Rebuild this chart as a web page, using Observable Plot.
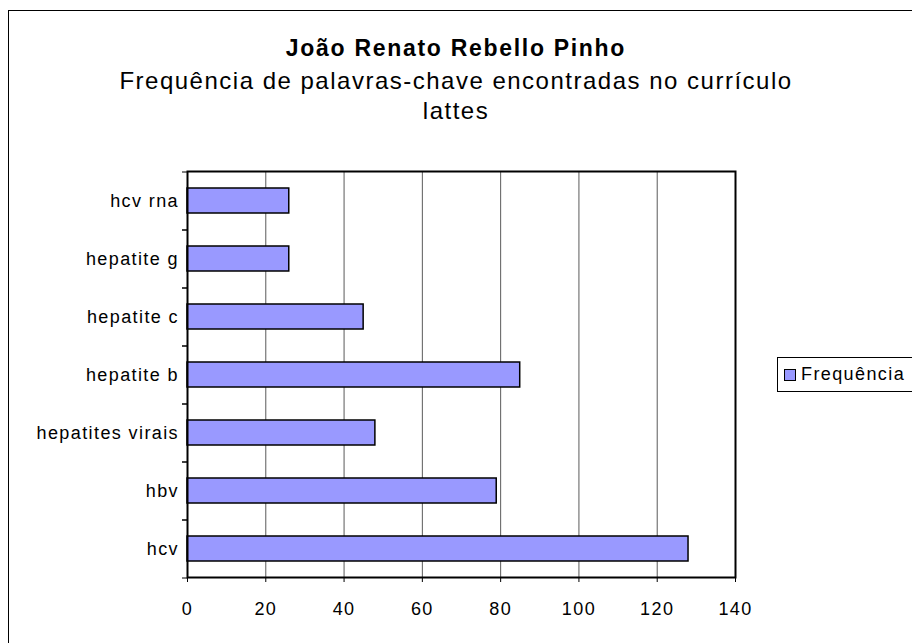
<!DOCTYPE html>
<html>
<head>
<meta charset="utf-8">
<script src="https://cdn.jsdelivr.net/npm/d3@7"></script>
<script src="https://cdn.jsdelivr.net/npm/@observablehq/plot@0.6"></script>
<style>
  html, body { margin: 0; padding: 0; background: #fff; overflow: hidden; }
  #wrap { position: relative; width: 912px; height: 643px; font-family: "Liberation Sans", Arial, sans-serif; color: #000; }
  #border { position: absolute; left: 8px; top: 10px; width: 1000px; height: 1000px; border: 1px solid #000; box-sizing: border-box; }
  #chart { position: absolute; left: 0; top: 0; }
  #chart svg text { letter-spacing: 1.4px; }
  #titles { position: absolute; left: 8px; width: 896px; top: 33px; text-align: center; }
  #t1 { font-weight: bold; font-size: 23px; line-height: 30px; letter-spacing: 1.7px; }
  #t2 { font-size: 24px; line-height: 30px; letter-spacing: 1.5px; margin-top: 3px; }
  #legend { position: absolute; left: 777px; top: 357px; height: 35px; width: 200px; border: 1px solid #000; box-sizing: border-box; font-size: 18px; letter-spacing: 1.4px; display: flex; align-items: center; }
  #legend .sw { width: 10px; height: 10px; background: #9999FF; border: 1px solid #000; margin-left: 6px; margin-right: 5px; }
</style>
</head>
<body>
<div id="wrap">
  <div id="border"></div>
  <div id="chart"></div>
  <div id="titles">
    <div id="t1"></div>
    <div id="t2"></div>
  </div>
  <div id="legend"><span class="sw"></span><span id="legtext"></span></div>
</div>
<script>
const title = "João Renato Rebello Pinho";
const subtitleLines = ["Frequência de palavras-chave encontradas no currículo", "lattes"];
const seriesName = "Frequência";
const categories = ["hcv rna", "hepatite g", "hepatite c", "hepatite b", "hepatites virais", "hbv", "hcv"];
const values = [26, 26, 45, 85, 48, 79, 128];
const xTicks = [0, 20, 40, 60, 80, 100, 120, 140];

document.getElementById("t1").textContent = title;
document.getElementById("t2").innerHTML = subtitleLines.map(s => s.replace(/&/g, "&amp;").replace(/</g, "&lt;")).join("<br>");
document.getElementById("legtext").textContent = seriesName;

const data = categories.map((c, i) => ({category: c, value: values[i]}));

const W = 912, H = 643;
const mL = 187, mR = 177, mT = 171, mB = 66;
const halfStep = (H - mT - mB) / categories.length / 2;

const chart = Plot.plot({
  width: W,
  height: H,
  marginLeft: mL,
  marginRight: mR,
  marginTop: mT,
  marginBottom: mB,
  style: {fontFamily: "'Liberation Sans', Arial, sans-serif", fontSize: "18px", color: "#000", background: "transparent", overflow: "visible"},
  x: {domain: [0, 140], ticks: xTicks},
  y: {domain: categories, paddingInner: 0.57, paddingOuter: 0.285},
  marks: [
    Plot.gridX(xTicks.slice(1, -1), {stroke: "#000", strokeOpacity: 0.65, strokeWidth: 1}),
    Plot.barX(data, {x: "value", y: "category", fill: "#9999FF", stroke: "#000", strokeWidth: 1.5}),
    Plot.frame({stroke: "#000", strokeWidth: 2}),
    Plot.axisX(xTicks, {tickSize: 5, tickPadding: 20, label: null, fontSize: 18, strokeWidth: 1}),
    Plot.axisY({tickSize: 0, tickPadding: 8.5, label: null, fontSize: 18}),
    Plot.axisY({tickSize: 5, text: null, label: null, dy: halfStep, strokeWidth: 1}),
    Plot.axisY({tickSize: 5, text: null, label: null, dy: -halfStep, strokeWidth: 1})
  ]
});
document.getElementById("chart").appendChild(chart);
</script>
</body>
</html>
